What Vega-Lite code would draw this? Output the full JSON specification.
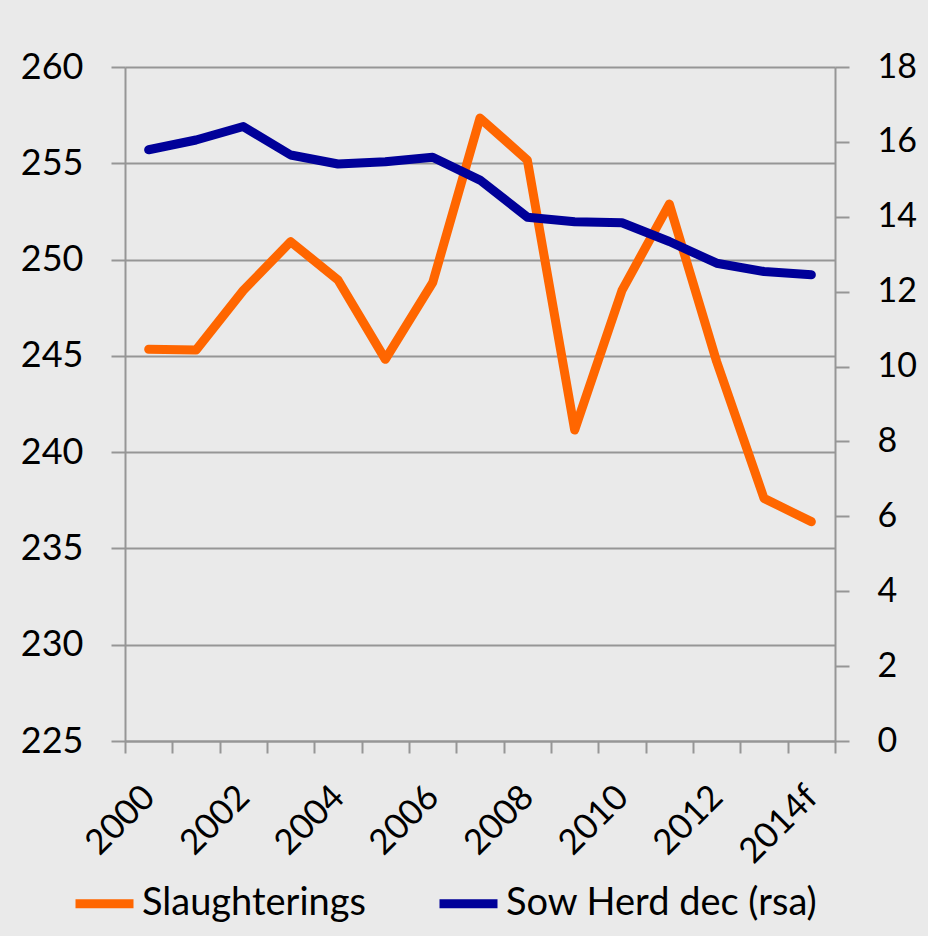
{
  "$schema": "https://vega.github.io/schema/vega-lite/v6.json",
  "width": 710,
  "height": 674,
  "autosize": {"type": "none"},
  "padding": {"left": 125, "top": 67, "right": 93, "bottom": 195},
  "background": "#EAEAEA",
  "config": {
    "view": {"stroke": null},
    "font": "Lato",
    "axis": {
      "domainColor": "#969696",
      "domainWidth": 2,
      "tickColor": "#969696",
      "tickWidth": 2,
      "gridColor": "#969696",
      "gridWidth": 2,
      "labelColor": "#000000",
      "labelFont": "Lato",
      "title": null
    }
  },
  "data": {
    "values": [
      {"year": "2000", "series": "Slaughterings", "value": 245.34},
      {"year": "2001", "series": "Slaughterings", "value": 245.3},
      {"year": "2002", "series": "Slaughterings", "value": 248.4},
      {"year": "2003", "series": "Slaughterings", "value": 250.93},
      {"year": "2004", "series": "Slaughterings", "value": 248.94},
      {"year": "2005", "series": "Slaughterings", "value": 244.82},
      {"year": "2006", "series": "Slaughterings", "value": 248.8},
      {"year": "2007", "series": "Slaughterings", "value": 257.35},
      {"year": "2008", "series": "Slaughterings", "value": 255.17},
      {"year": "2009", "series": "Slaughterings", "value": 241.15},
      {"year": "2010", "series": "Slaughterings", "value": 248.4},
      {"year": "2011", "series": "Slaughterings", "value": 252.88},
      {"year": "2012", "series": "Slaughterings", "value": 244.7},
      {"year": "2013", "series": "Slaughterings", "value": 237.6},
      {"year": "2014f", "series": "Slaughterings", "value": 236.39},
      {"year": "2000", "series": "Sow Herd dec (rsa)", "value": 15.79},
      {"year": "2001", "series": "Sow Herd dec (rsa)", "value": 16.05},
      {"year": "2002", "series": "Sow Herd dec (rsa)", "value": 16.41},
      {"year": "2003", "series": "Sow Herd dec (rsa)", "value": 15.65},
      {"year": "2004", "series": "Sow Herd dec (rsa)", "value": 15.41},
      {"year": "2005", "series": "Sow Herd dec (rsa)", "value": 15.47},
      {"year": "2006", "series": "Sow Herd dec (rsa)", "value": 15.59},
      {"year": "2007", "series": "Sow Herd dec (rsa)", "value": 14.98},
      {"year": "2008", "series": "Sow Herd dec (rsa)", "value": 13.99},
      {"year": "2009", "series": "Sow Herd dec (rsa)", "value": 13.87},
      {"year": "2010", "series": "Sow Herd dec (rsa)", "value": 13.84},
      {"year": "2011", "series": "Sow Herd dec (rsa)", "value": 13.34},
      {"year": "2012", "series": "Sow Herd dec (rsa)", "value": 12.76},
      {"year": "2013", "series": "Sow Herd dec (rsa)", "value": 12.54},
      {"year": "2014f", "series": "Sow Herd dec (rsa)", "value": 12.45}
    ]
  },
  "encoding": {
    "x": {
      "field": "year",
      "type": "ordinal",
      "sort": null,
      "bandPosition": 0.5,
      "scale": {"type": "band", "paddingInner": 0, "paddingOuter": 0},
      "axis": {
        "tickBand": "extent",
        "tickSize": 12,
        "labelAngle": -45,
        "labelAlign": "right",
        "labelBaseline": "middle",
        "labelFontSize": 35,
        "labelPadding": 38,
        "labelOverlap": false,
        "labelExpr": "indexof(['2000','2002','2004','2006','2008','2010','2012','2014f'], datum.value) >= 0 ? datum.value : ''"
      }
    },
    "color": {
      "field": "series",
      "type": "nominal",
      "scale": {"domain": ["Slaughterings", "Sow Herd dec (rsa)"], "range": ["#FF6600", "#000099"]},
      "legend": {
        "title": null,
        "orient": "none",
        "direction": "horizontal",
        "legendX": -54,
        "legendY": 803,
        "symbolType": "stroke",
        "symbolSize": 3364,
        "symbolStrokeWidth": 9,
        "symbolOffset": 0,
        "labelOffset": 4,
        "labelFontSize": 38,
        "labelFont": "Lato",
        "labelColor": "#000000",
        "labelLimit": 0,
        "columnPadding": 55
      }
    }
  },
  "layer": [
    {
      "transform": [{"filter": "datum.series == 'Slaughterings'"}],
      "mark": {"type": "line", "strokeWidth": 9, "strokeCap": "round", "strokeJoin": "round"},
      "encoding": {
        "y": {
          "field": "value",
          "type": "quantitative",
          "scale": {"domain": [225, 260], "zero": false, "nice": false},
          "axis": {
            "orient": "left",
            "values": [225, 230, 235, 240, 245, 250, 255, 260],
            "grid": true,
            "tickSize": 14,
            "labelPadding": 28,
            "labelFontSize": 36
          }
        }
      }
    },
    {
      "transform": [{"filter": "datum.series == 'Sow Herd dec (rsa)'"}],
      "mark": {"type": "line", "strokeWidth": 9, "strokeCap": "round", "strokeJoin": "round"},
      "encoding": {
        "y": {
          "field": "value",
          "type": "quantitative",
          "scale": {"domain": [0, 18], "nice": false},
          "axis": {
            "orient": "right",
            "values": [0, 2, 4, 6, 8, 10, 12, 14, 16, 18],
            "grid": false,
            "tickSize": 14,
            "labelPadding": 28,
            "labelFontSize": 34
          }
        }
      }
    }
  ],
  "resolve": {"scale": {"y": "independent"}}
}
